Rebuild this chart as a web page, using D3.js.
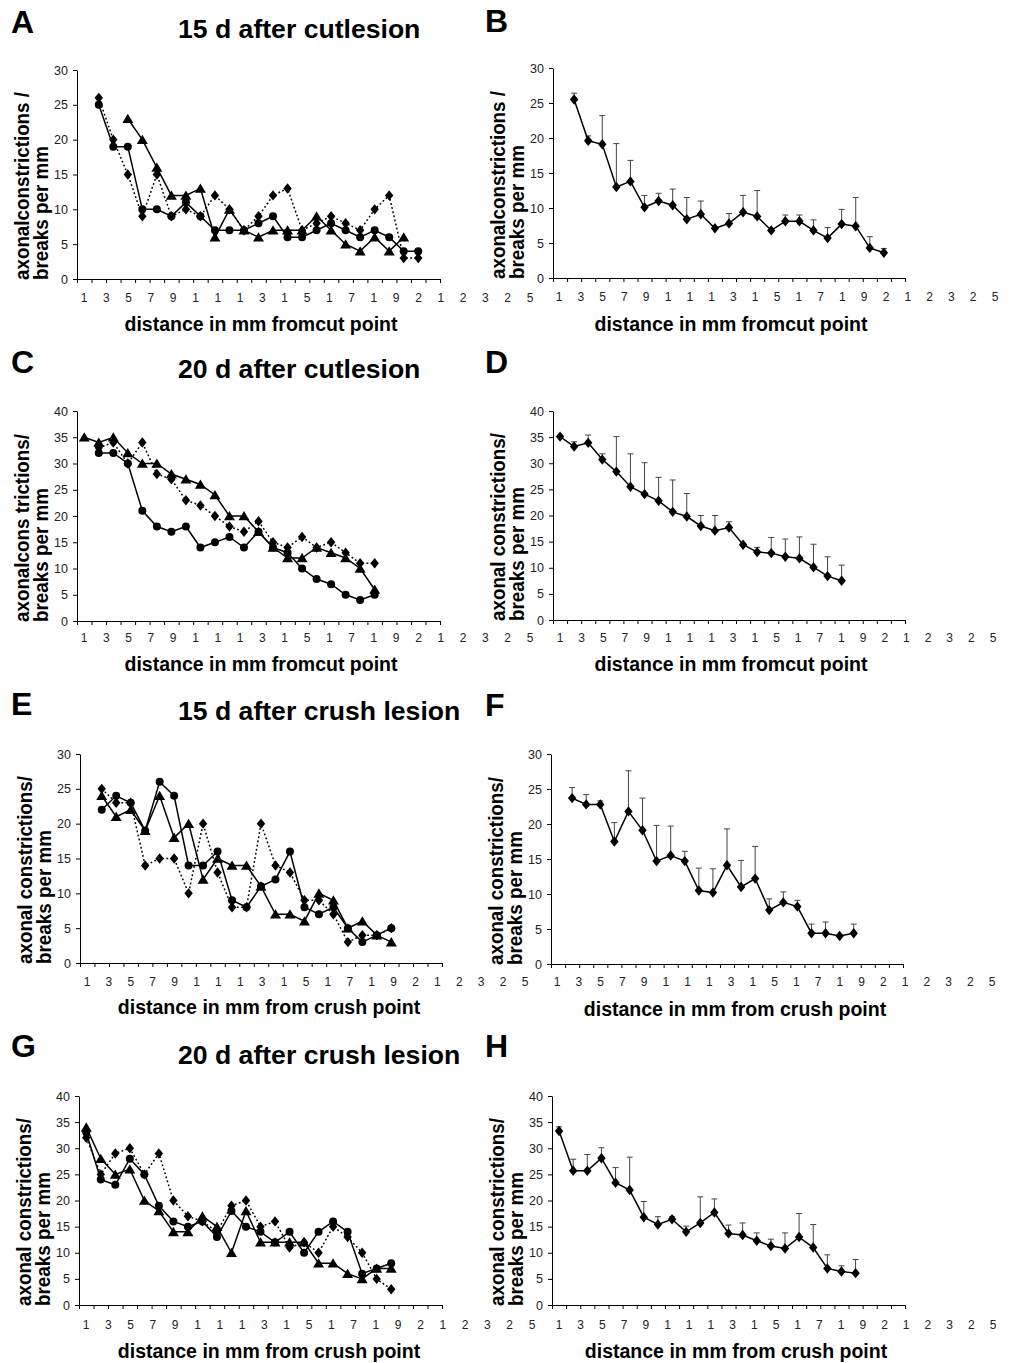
<!DOCTYPE html>
<html lang="en">
<head>
<meta charset="utf-8">
<title>Axonal constrictions / breaks per mm</title>
<script src="https://cdn.jsdelivr.net/npm/d3@7"></script>
<style>
	body { margin: 0; background: #fff; }
	svg { display: block; font-family: "Liberation Sans", Arial, sans-serif; }
</style>
</head>
<body>
<div id="chart"></div>
<script>

	// distance bins along the nerve (25 categories on every x axis)
	const categories = d3.range(25);

	// tick labels exactly as printed under each axis
	const xTickLabels = ["1", "3", "5", "7", "9", "1", "1", "1", "3", "1", "5", "1", "7", "1", "9", "2", "1", "2", "3", "2", "5"];

	// A: 15 d after cut lesion, single animals
	const aCircle   = [null, 25, 19, 19, 10, 10, 9, 11, 9, 7, 7, 7, 8, 9, 6, 6, 7, 8, 7, 6, 7, 6, 4, 4, null];
	const aTriangle = [null, null, null, 23, 20, 16, 12, 12, 13, 6, 10, 7, 6, 7, 7, 7, 9, 7, 5, 4, 6, 4, 6, null, null];
	const aDiamond  = [null, 26, 20, 15, 9, 15, 9, 10, 9, 12, 10, 7, 9, 12, 13, 7, 8, 9, 8, 7, 10, 12, 3, 3, null];

	// B: 15 d after cut lesion, mean + SD
	const bMean = [null, 25.5, 19.6, 19.1, 13.0, 13.8, 10.1, 11.0, 10.4, 8.4, 9.1, 7.1, 7.8, 9.4, 8.8, 6.8, 8.1, 8.1, 6.8, 5.7, 7.7, 7.4, 4.3, 3.6, null];
	const bSd   = [null, 0.9, 0.7, 4.1, 6.2, 3.0, 1.7, 1.1, 2.3, 3.1, 1.9, 0.2, 1.4, 2.4, 3.7, 0.2, 0.9, 0.9, 1.5, 1.5, 2.1, 4.1, 1.6, 0.6, null];

	// C: 20 d after cut lesion, single animals
	const cCircle   = [null, 32, 32, 30, 21, 18, 17, 18, 14, 15, 16, 14, 17, 14, 13, 10, 8, 7, 5, 4, 5, null, null, null, null];
	const cTriangle = [35, 34, 35, 32, 30, 30, 28, 27, 26, 24, 20, 20, 17, 14, 12, 12, 14, 13, 12, 10, 6, null, null, null, null];
	const cDiamond  = [null, 33, 34, 30, 34, 28, 27, 23, 22, 20, 18, 17, 19, 15, 14, 16, 14, 15, 13, 11, 11, null, null, null, null];

	// D: 20 d after cut lesion, mean + SD
	const dMean = [35.1, 33.2, 33.9, 30.7, 28.4, 25.5, 24.1, 22.8, 20.7, 19.8, 18.0, 17.1, 17.7, 14.4, 13.0, 12.8, 12.1, 11.8, 10.1, 8.4, 7.5, null, null, null, null];
	const dSd   = [0, 0.9, 1.5, 1.1, 6.7, 6.3, 6.0, 4.5, 6.1, 4.4, 2.0, 2.9, 1.1, 0.2, 0.9, 3.0, 3.4, 4.1, 4.4, 3.7, 3.0, null, null, null, null];

	// E: 15 d after crush lesion, single animals
	const eCircle   = [null, 22, 24, 23, 19, 26, 24, 14, 14, 16, 9, 8, 11, 12, 16, 8, 7, 8, 5, 3, 4, 5, null, null, null];
	const eTriangle = [null, 24, 21, 22, 19, 24, 18, 20, 12, 15, 14, 14, 11, 7, 7, 6, 10, 9, 5, 6, 4, 3, null, null, null];
	const eDiamond  = [null, 25, 23, 23, 14, 15, 15, 10, 20, 13, 8, 8, 20, 14, 13, 9, 9, 7, 3, 4, 4, 5, null, null, null];

	// F: 15 d after crush lesion, mean + SD
	const fMean = [null, 23.7, 22.8, 22.8, 17.5, 21.8, 19.1, 14.7, 15.5, 14.7, 10.5, 10.2, 14.1, 11.0, 12.2, 7.7, 8.8, 8.2, 4.4, 4.4, 4.0, 4.4, null, null, null];
	const fSd   = [null, 1.5, 1.4, 0.5, 2.7, 5.8, 4.6, 5.1, 4.2, 1.4, 3.2, 3.4, 5.2, 3.8, 4.6, 1.6, 1.5, 0.9, 1.3, 1.6, 0, 1.3, null, null, null];

	// G: 20 d after crush lesion, single animals
	const gCircle   = [33, 24, 23, 28, 25, 19, 16, 15, 16, 13, 18, 15, 14, 12, 14, 10, 14, 16, 14, 6, 7, 8, null, null, null];
	const gTriangle = [34, 28, 25, 26, 20, 18, 14, 14, 17, 15, 10, 18, 12, 12, 12, 12, 8, 8, 6, 5, 7, 7, null, null, null];
	const gDiamond  = [32, 25, 29, 30, 25, 29, 20, 17, 16, 14, 19, 20, 15, 16, 11, 12, 10, 15, 13, 10, 5, 3, null, null, null];

	// H: 20 d after crush lesion, mean + SD
	const hMean = [33.3, 25.7, 25.7, 28.1, 23.4, 22.0, 16.8, 15.4, 16.4, 14.0, 15.7, 17.7, 13.7, 13.4, 12.3, 11.3, 10.8, 13.0, 11.0, 7.0, 6.4, 6.1, null, null, null];
	const hSd   = [0.8, 2.2, 3.1, 2.0, 2.9, 6.3, 3.0, 1.5, 0.5, 1.1, 5.0, 2.6, 1.6, 2.3, 1.5, 1.3, 3.0, 4.5, 4.4, 2.6, 1.1, 2.6, null, null, null];

	const width = 1018, height = 1363;

	const svg = d3.select("#chart")
		.append("svg")
		.attr("width", width)
		.attr("height", height);

	// panel layout: axis box, label row and text positions
	const panels = [
		{ letter: "A", x0: 77, x1: 440, yt: 70, yb: 279, ymax: 30, lab: [84, 530], labY: 302, xt: 261, xtY: 331,
			ytitle: ["axonalconstrictions /", "breaks per mm"], xtitle: "distance in mm fromcut point",
			title: "15 d after cutlesion", titleY: 38, letterY: 33, series: [aDiamond, aCircle, aTriangle] },
		{ letter: "B", x0: 553, x1: 905, yt: 68, yb: 278, ymax: 30, lab: [559, 995], labY: 301, xt: 731, xtY: 331,
			ytitle: ["axonalconstrictions /", "breaks per mm"], xtitle: "distance in mm fromcut point",
			letterY: 32, mean: bMean, sd: bSd },
		{ letter: "C", x0: 77, x1: 440, yt: 411, yb: 621, ymax: 40, lab: [84, 530], labY: 642, xt: 261, xtY: 671,
			ytitle: ["axonalcons trictions/", "breaks per mm"], xtitle: "distance in mm fromcut point",
			title: "20 d after cutlesion", titleY: 378, letterY: 373, series: [cDiamond, cCircle, cTriangle] },
		{ letter: "D", x0: 553, x1: 905, yt: 411, yb: 620, ymax: 40, lab: [560, 993], labY: 642, xt: 731, xtY: 671,
			ytitle: ["axonal constrictions/", "breaks per mm"], xtitle: "distance in mm fromcut point",
			letterY: 373, mean: dMean, sd: dSd },
		{ letter: "E", x0: 80, x1: 442, yt: 754, yb: 963, ymax: 30, lab: [87, 525], labY: 986, xt: 269, xtY: 1014,
			ytitle: ["axonal constrictions/", "breaks per mm"], xtitle: "distance in mm from crush point",
			title: "15 d after crush lesion", titleY: 720, letterY: 715, series: [eDiamond, eCircle, eTriangle] },
		{ letter: "F", x0: 551, x1: 903, yt: 754, yb: 964, ymax: 30, lab: [557, 992], labY: 986, xt: 735, xtY: 1016,
			ytitle: ["axonal constrictions/", "breaks per mm"], xtitle: "distance in mm from crush point",
			letterY: 716, mean: fMean, sd: fSd },
		{ letter: "G", x0: 79, x1: 442, yt: 1096, yb: 1305, ymax: 40, lab: [86, 532], labY: 1329, xt: 269, xtY: 1358,
			ytitle: ["axonal constrictions/", "breaks per mm"], xtitle: "distance in mm from crush point",
			title: "20 d after crush lesion", titleY: 1064, letterY: 1057, series: [gDiamond, gCircle, gTriangle] },
		{ letter: "H", x0: 552, x1: 905, yt: 1096, yb: 1305, ymax: 40, lab: [559, 993], labY: 1329, xt: 736, xtY: 1358,
			ytitle: ["axonal constrictions/", "breaks per mm"], xtitle: "distance in mm from crush point",
			letterY: 1057, mean: hMean, sd: hSd }
	];

	// marker shapes
	const diamondPath = "M0,-5.2L4.2,0L0,5.2L-4.2,0Z";
	const trianglePath = "M0,-5L5.5,4.3L-5.5,4.3Z";
	const markerKinds = ["diamond", "circle", "triangle"];

	function drawMarkers(g, data, kind, x, y) {
		const pts = data.map((d, i) => ({ v: d, i: i })).filter(d => d.v != null);
		if (kind === "circle") {
			g.selectAll(null).data(pts).enter()
				.append("circle")
				.attr("cx", d => x(d.i + 0.5))
				.attr("cy", d => y(d.v))
				.attr("r", 4)
				.attr("fill", "#000");
		} else {
			g.selectAll(null).data(pts).enter()
				.append("path")
				.attr("d", kind === "diamond" ? diamondPath : trianglePath)
				.attr("transform", d => "translate(" + x(d.i + 0.5) + "," + y(d.v) + ")")
				.attr("fill", "#000");
		}
	}

	panels.forEach(function (p) {
		const g = svg.append("g");

		const x = d3.scaleLinear()
			.domain([0, categories.length])
			.range([p.x0, p.x1]);

		const y = d3.scaleLinear()
			.domain([0, p.ymax])
			.range([p.yb, p.yt]);

		// X Axis
		g.append("g")
			.attr("transform", "translate(0," + p.yb + ")")
			.call(d3.axisBottom(x)
				.tickValues(d3.range(categories.length + 1))
				.tickFormat("")
				.tickSizeInner(4)
				.tickSizeOuter(0));

		// Y Axis
		const ya = g.append("g")
			.attr("transform", "translate(" + p.x0 + ",0)")
			.call(d3.axisLeft(y)
				.tickValues(d3.range(0, p.ymax + 1, 5))
				.tickSizeInner(4)
				.tickSizeOuter(0)
				.tickPadding(5));
		ya.selectAll("text")
			.attr("font-size", 12.5)
			.attr("font-family", "'Liberation Sans', Arial, sans-serif")
			.attr("fill", "#222");

		g.selectAll(".domain, .tick line").attr("stroke", "#000");

		// row of category labels under the axis
		const lx = d3.scalePoint()
			.domain(d3.range(xTickLabels.length))
			.range(p.lab);
		g.append("g").selectAll("text")
			.data(xTickLabels).enter()
			.append("text")
			.attr("x", (d, i) => lx(i))
			.attr("y", p.labY)
			.attr("text-anchor", "middle")
			.attr("font-size", 12)
			.attr("fill", "#222")
			.text(d => d);

		const line = d3.line()
			.defined(d => d != null)
			.x((d, i) => x(i + 0.5))
			.y(d => y(d));

		if (p.series) {
			p.series.forEach(function (s, k) {
				g.append("path")
					.datum(s)
					.attr("fill", "none")
					.attr("stroke", "#000")
					.attr("stroke-width", 1.5)
					.attr("stroke-dasharray", k === 0 ? "1.8,2.4" : null)
					.attr("d", line);
				drawMarkers(g, s, markerKinds[k], x, y);
			});
		} else {
			// upper SD whiskers
			const bars = p.mean.map((m, i) => ({ m: m, s: p.sd[i], i: i }))
				.filter(d => d.m != null && d.s > 0.3);
			g.selectAll(null).data(bars).enter()
				.append("line")
				.attr("x1", d => x(d.i + 0.5))
				.attr("x2", d => x(d.i + 0.5))
				.attr("y1", d => y(d.m))
				.attr("y2", d => y(d.m + d.s))
				.attr("stroke", "#444")
				.attr("stroke-width", 1);
			g.selectAll(null).data(bars).enter()
				.append("line")
				.attr("x1", d => x(d.i + 0.5) - 3)
				.attr("x2", d => x(d.i + 0.5) + 3)
				.attr("y1", d => y(d.m + d.s))
				.attr("y2", d => y(d.m + d.s))
				.attr("stroke", "#444")
				.attr("stroke-width", 1);

			g.append("path")
				.datum(p.mean)
				.attr("fill", "none")
				.attr("stroke", "#000")
				.attr("stroke-width", 1.5)
				.attr("d", line);
			drawMarkers(g, p.mean, "diamond", x, y);
		}

		// y title, two rotated lines starting at the x axis level
		const yt = g.append("g")
			.attr("font-weight", "bold")
			.attr("font-size", 21)
			.attr("fill", "#000");
		yt.append("text")
			.attr("transform", "translate(" + (p.x0 - 48) + "," + (p.yb + 1) + ") rotate(-90)")
			.attr("textLength", 188)
			.attr("lengthAdjust", "spacingAndGlyphs")
			.text(p.ytitle[0]);
		yt.append("text")
			.attr("transform", "translate(" + (p.x0 - 29) + "," + (p.yb + 1) + ") rotate(-90)")
			.attr("textLength", 134)
			.attr("lengthAdjust", "spacingAndGlyphs")
			.text(p.ytitle[1]);

		// x title
		g.append("text")
			.attr("x", p.xt)
			.attr("y", p.xtY)
			.attr("text-anchor", "middle")
			.attr("font-weight", "bold")
			.attr("font-size", 19.5)
			.text(p.xtitle);

		// panel letter
		g.append("text")
			.attr("x", p.x0 < 300 ? 11 : 485)
			.attr("y", p.letterY)
			.attr("font-weight", "bold")
			.attr("font-size", 32)
			.text(p.letter);

		if (p.title) {
			g.append("text")
				.attr("x", 178)
				.attr("y", p.titleY)
				.attr("font-weight", "bold")
				.attr("font-size", 26.6)
				.text(p.title);
		}
	});

</script>
</body>
</html>
